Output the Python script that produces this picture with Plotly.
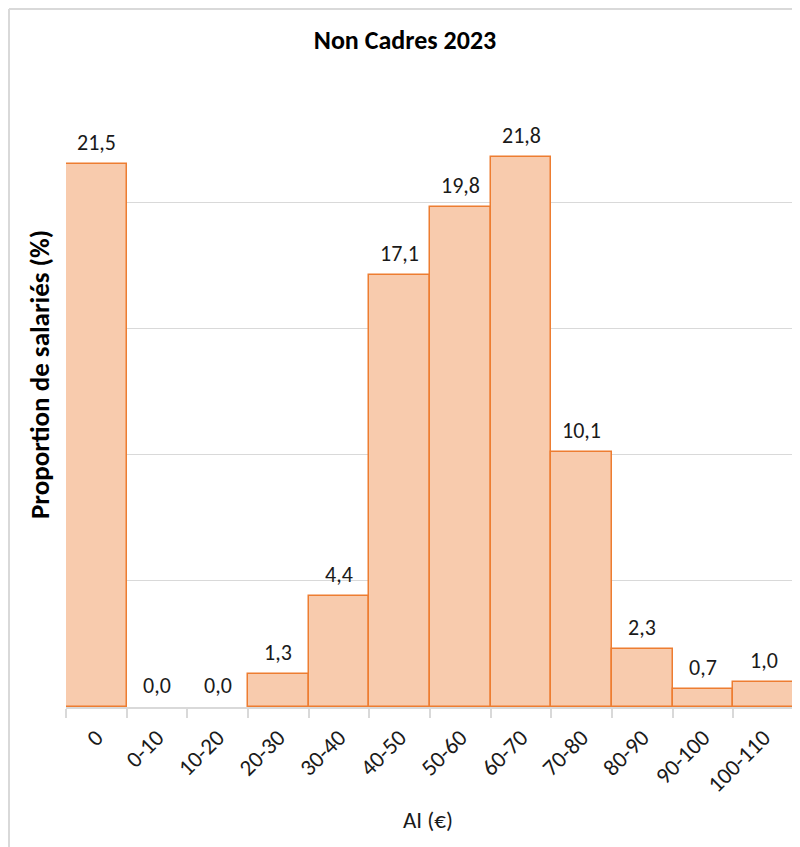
import plotly.graph_objects as go

categories = ["0", "0-10", "10-20", "20-30", "30-40", "40-50", "50-60", "60-70", "70-80", "80-90", "90-100", "100-110"]
values = [21.5, 0.0, 0.0, 1.3, 4.4, 17.1, 19.8, 21.8, 10.1, 2.3, 0.7, 1.0]
labels = [f"{v:.1f}".replace(".", ",") for v in values]

FONT = "Carlito, Calibri, Lato, sans-serif"
OFF = 8  # page body offset
W, H = 800 - OFF, 847 - OFF
ml, mr, mt, mb = 66 - OFF, 6, 76 - OFF, 140
pw, ph = W - ml - mr, H - mt - mb


def px_x(p):
    return (p - OFF - ml) / pw


def px_y(p):
    return (H - mb - (p - OFF)) / ph


fig = go.Figure(go.Bar(
    x=categories, y=values,
    marker=dict(color="#F8CBAD",
                line=dict(color="#ED7D31", width=[1.5 if v > 0 else 0 for v in values])),
    cliponaxis=False, width=1.0, hoverinfo="x+y",
))

for c, v, t in zip(categories, values, labels):
    fig.add_annotation(x=c, y=v, text=t, showarrow=False, yanchor="bottom", yshift=6,
                       font=dict(family=FONT, size=22, color="#1a1a1a"))

fig.add_annotation(xref="paper", yref="paper", x=px_x(39), y=px_y(375), text="<b>Proportion de salariés (%)</b>",
                   textangle=-90, showarrow=False, xanchor="center", yanchor="middle",
                   font=dict(family=FONT, size=27, color="#000000"))
fig.add_annotation(xref="paper", yref="paper", x=px_x(428), y=px_y(820), text="AI (€)",
                   showarrow=False, xanchor="center", yanchor="middle",
                   font=dict(family=FONT, size=23, color="#1a1a1a"))

bx = px_x(9)
by = px_y(9)

fig.update_layout(
    width=W, height=H,
    margin=dict(l=ml, r=mr, t=mt, b=mb),
    paper_bgcolor="white", plot_bgcolor="white",
    bargap=0,
    showlegend=False,
    title=dict(text="<b>Non Cadres 2023</b>", x=(405 - OFF) / W, xanchor="center",
               y=1 - (40 - OFF) / H, yanchor="middle",
               font=dict(family=FONT, size=26, color="#000000")),
    xaxis=dict(
        type="category", tickangle=-45,
        tickfont=dict(family=FONT, size=23, color="#1a1a1a"),
        showline=True, linecolor="#d9d9d9", linewidth=2,
        ticks="outside", tickson="boundaries", ticklen=9, tickcolor="#d9d9d9", tickwidth=1.5,
        ticklabelstandoff=6,
        showgrid=False,
    ),
    yaxis=dict(
        range=[0, 25], dtick=5, showticklabels=False,
        showgrid=True, gridcolor="#d9d9d9", gridwidth=1.2,
        zeroline=False, showline=False, ticks="",
    ),
    shapes=[
        dict(type="line", xref="paper", yref="paper", x0=bx, x1=1.5, y0=by, y1=by,
             line=dict(color="#d9d9d9", width=2)),
        dict(type="line", xref="paper", yref="paper", x0=bx, x1=bx, y0=by, y1=-0.5,
             line=dict(color="#d9d9d9", width=2)),
    ],
)

fig.write_html("out.html")
